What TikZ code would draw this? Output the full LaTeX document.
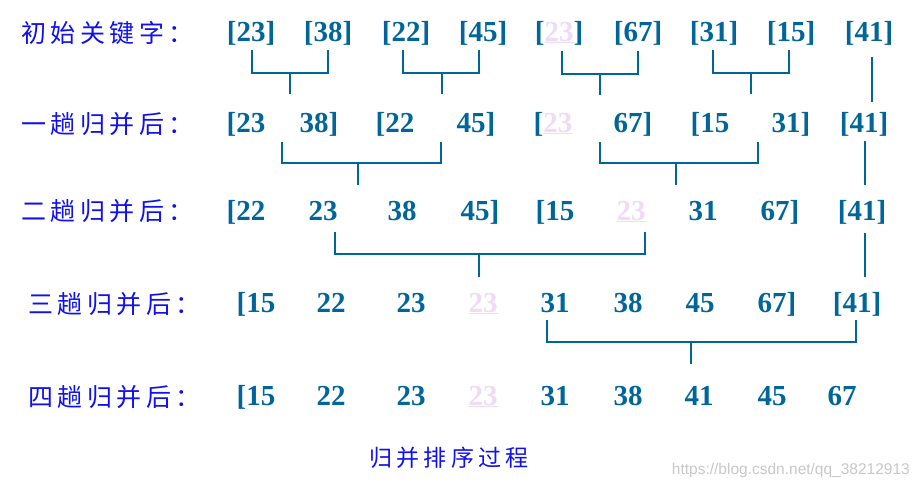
\documentclass[tikz,border=0pt]{standalone}
\usepackage{fontspec}
\setmainfont{Liberation Serif}
\newfontfamily\cjk[LetterSpace=18]{Noto Sans CJK SC}
\newfontfamily\wmfont{Liberation Sans}
\definecolor{numblue}{HTML}{00669A}
\definecolor{pinkc}{HTML}{EEDCF6}
\definecolor{labblue}{HTML}{1010F0}
\definecolor{wmgray}{HTML}{C8C8C8}
\newcommand{\pk}[1]{{\color{pinkc}\underline{#1}}}
\tikzset{
  num/.style={font=\fontsize{29}{30}\selectfont\bfseries, text=numblue, anchor=base, inner sep=0pt},
  lab/.style={font=\fontsize{25}{27}\selectfont\cjk, text=labblue, anchor=west, inner sep=0pt},
  captext/.style={font=\fontsize{23}{25}\selectfont\cjk, text=labblue, anchor=center, inner sep=0pt},
  link/.style={draw=numblue, line width=2.6pt}
}
\begin{document}
\begin{tikzpicture}[x=1pt,y=-1pt]
\useasboundingbox[fill=white] (0,0) rectangle (917,488);
% labels
\node[lab] (l1) at (21,33) {初始关键字：};
\node[lab] (l2) at (21,124) {一趟归并后：};
\node[lab] (l3) at (21,211) {二趟归并后：};
\node[lab] (l4) at (28,304) {三趟归并后：};
\node[lab] (l5) at (28,397) {四趟归并后：};
% row 1
\foreach \x/\t/\n in {251/[23]/a,328/[38]/b,406/[22]/c,483/[45]/d,559/[\pk{23}]/e,638/[67]/f,714/[31]/g,791/[15]/h,869/[41]/i}
  \node[num] (r1\n) at (\x,41) {\t};
% row 2
\foreach \x/\t/\n in {246/[23/a,319/38]/b,395/[22/c,476/45]/d,553/[\pk{23}/e,633/67]/f,710/[15/g,791/31]/h,864/[41]/i}
  \node[num] (r2\n) at (\x,132) {\t};
% row 3
\foreach \x/\t/\n in {246/[22/a,323/23/b,402/38/c,480/45]/d,555/[15/e,631/\pk{23}/f,703/31/g,780/67]/h,862/[41]/i}
  \node[num] (r3\n) at (\x,220) {\t};
% row 4
\foreach \x/\t/\n in {256/[15/a,331/22/b,411/23/c,483/\pk{23}/d,555/31/e,628/38/f,700/45/g,777/67]/h,857/[41]/i}
  \node[num] (r4\n) at (\x,312) {\t};
% row 5
\foreach \x/\t/\n in {256/[15/a,331/22/b,411/23/c,483/\pk{23}/d,555/31/e,628/38/f,699/41/g,772/45/h,842/67/i}
  \node[num] (r5\n) at (\x,405) {\t};
% merge brackets, pass 1
\draw[link] (252,50) |- (328,73) -- (328,50);
\draw[link] (290,73) -- (290,94);
\draw[link] (403,50) |- (479,73) -- (479,50);
\draw[link] (442,73) -- (442,94);
\draw[link] (562,51) |- (638,74) -- (638,51);
\draw[link] (600,74) -- (600,95);
\draw[link] (713,50) |- (789,73) -- (789,50);
\draw[link] (751,73) -- (751,94);
\draw[link] (872,57) -- (872,102);
% pass 2
\draw[link] (282,142) |- (441,163) -- (441,142);
\draw[link] (358,163) -- (358,185);
\draw[link] (600,142) |- (758,163) -- (758,142);
\draw[link] (676,163) -- (676,185);
\draw[link] (865,141) -- (865,185);
% pass 3
\draw[link] (335,232) |- (645,254) -- (645,232);
\draw[link] (479,254) -- (479,277);
\draw[link] (865,233) -- (865,277);
% pass 4
\draw[link] (547,320) |- (856,342) -- (856,320);
\draw[link] (691,342) -- (691,364);
% caption and watermark
\node[captext] (caption) at (449,458) {归并排序过程};
\node[font=\fontsize{15.5}{16}\selectfont\wmfont, text=wmgray, anchor=east, inner sep=0pt] (wm) at (910,470) {https://blog.csdn.net/qq\_38212913};
\end{tikzpicture}
\end{document}
